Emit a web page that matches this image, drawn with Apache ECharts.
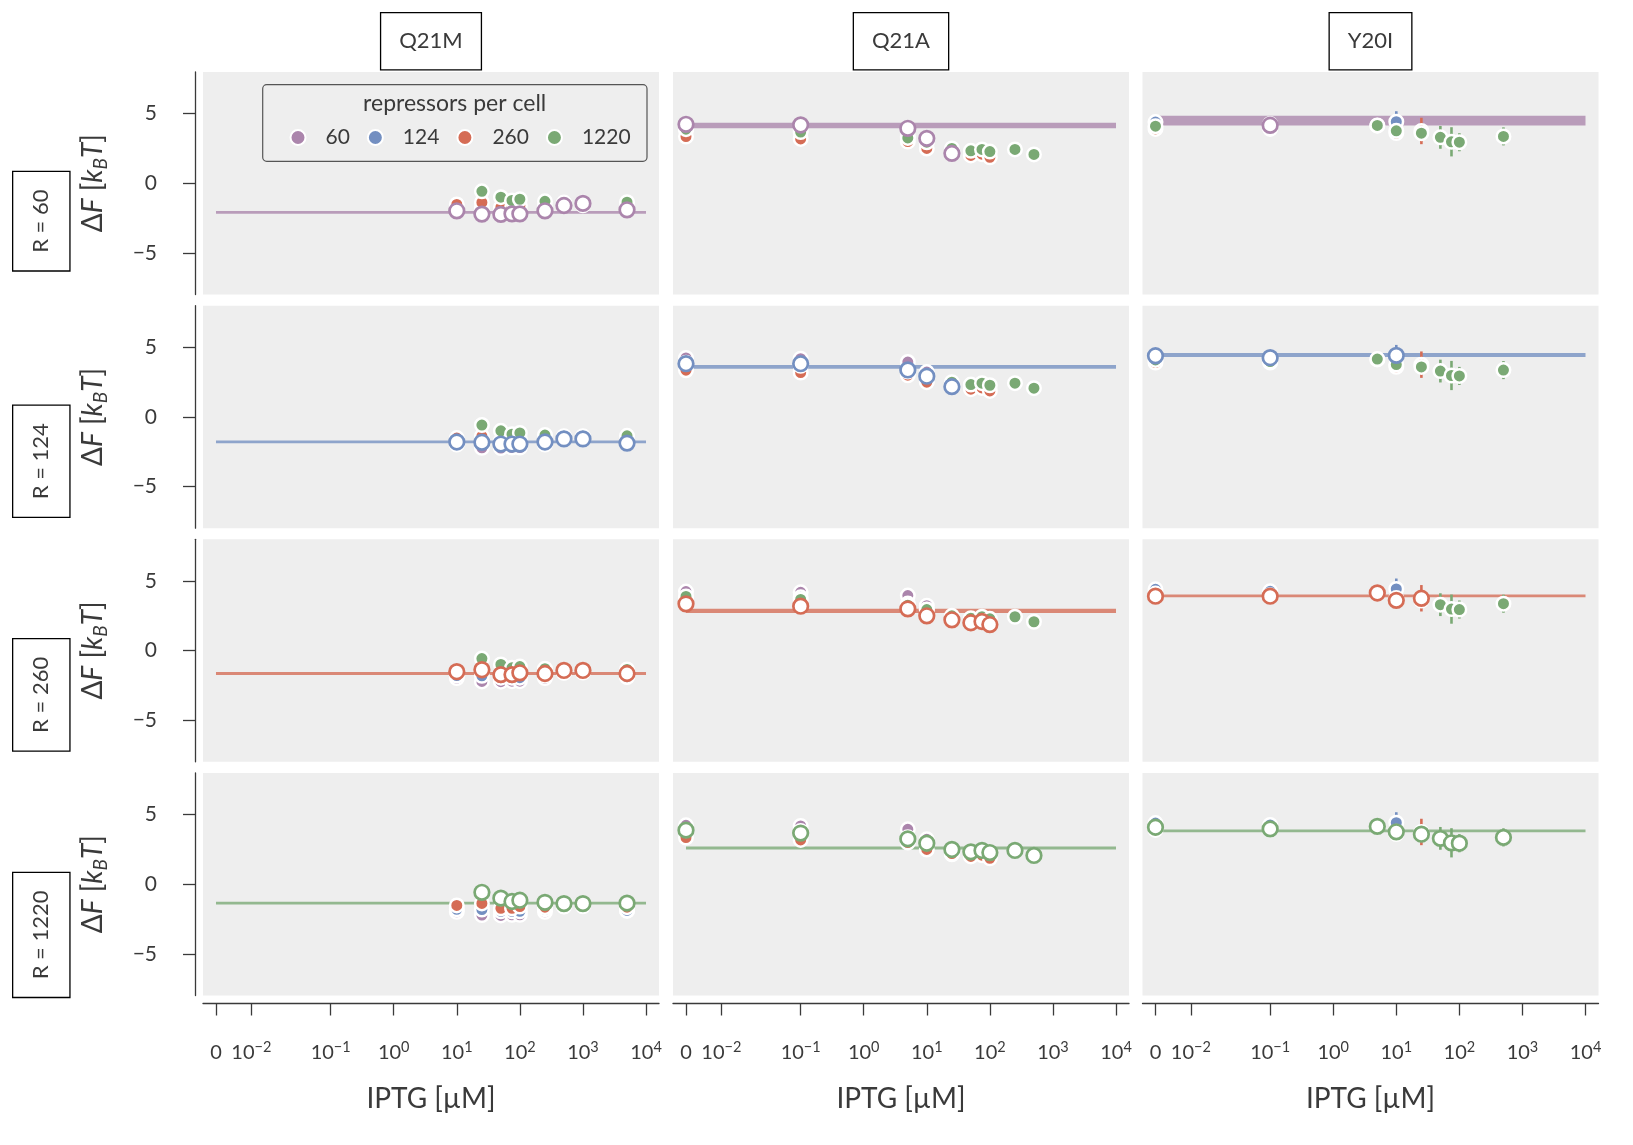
<!DOCTYPE html>
<html><head><meta charset="utf-8">
<script src="https://cdn.jsdelivr.net/npm/echarts@6/dist/echarts.min.js"></script>
<style>html,body{margin:0;padding:0;background:#fff}#c{width:1633px;height:1145px}</style>
</head><body><div id="c"></div>
<script>
// ---------------- data ----------------
const repressors = ['60', '124', '260', '1220'];
const colors = ['#AB85AC', '#738FC1', '#D56C55', '#7AA974'];
const mutants = ['Q21M', 'Q21A', 'Y20I'];
const iptg = [0, 0.1, 5, 10, 25, 50, 75, 100, 250, 500, 1000, 5000];

const q21m_R60   = [null, null, null, -1.98, -2.22, -2.24, -2.20, -2.20, -1.98, -1.60, -1.45, -1.91];
const q21m_R124  = [null, null, null, -1.80, -1.82, -1.95, -1.95, -1.95, -1.80, -1.58, -1.58, -1.88];
const q21m_R260  = [null, null, null, -1.52, -1.38, -1.73, -1.73, -1.60, -1.65, -1.43, -1.43, -1.65];
const q21m_R1220 = [null, null, null, null, -0.58, -1.00, -1.24, -1.15, -1.30, -1.39, -1.39, -1.36];

const q21a_R60   = [4.24, 4.19, 3.95, 3.23, 2.15, null, null, null, null, null, null, null];
const q21a_R124  = [3.83, 3.83, 3.38, 2.93, 2.18, null, null, null, null, null, null, null];
const q21a_R260  = [3.36, 3.19, 3.00, 2.50, 2.21, 2.00, 2.09, 1.87, null, null, null, null];
const q21a_R1220 = [3.89, 3.68, 3.26, 2.95, 2.50, 2.33, 2.43, 2.28, 2.43, 2.07, null, null];

const y20i_R60   = [null, 4.17, null, null, null, null, null, null, null, null, null, null];
const y20i_R124  = [4.40, 4.26, null, 4.43, null, null, null, null, null, null, null, null];
const y20i_R260  = [3.91, 3.91, 4.14, 3.61, 3.76, null, null, null, null, null, null, null];
const y20i_R1220 = [4.10, 3.98, 4.16, 3.77, 3.60, 3.30, 2.98, 2.95, null, 3.37, null, null];

// half-widths of the error bars (only where visible)
const y20i_R124_err  = [null, null, null, 0.75, null, null, null, null, null, null, null, null];
const y20i_R260_err  = [null, null, null, null, 0.95, null, null, null, null, null, null, null];
const y20i_R1220_err = [null, null, null, null, null, 0.82, 1.05, 0.65, null, 0.65, null, null];

// inferred dF band (lower / upper) per repressor copy number
const bandLo_Q21M = [-2.20, -1.90, -1.75, -1.45];
const bandHi_Q21M = [-2.00, -1.70, -1.55, -1.25];
const bandLo_Q21A = [3.95, 3.47, 2.70, 2.50];
const bandHi_Q21A = [4.35, 3.73, 3.00, 2.72];
const bandLo_Y20I = [4.15, 4.32, 3.85, 3.75];
const bandHi_Y20I = [4.85, 4.60, 4.02, 3.92];

// x ticks
const xTickIPTG = [0, 0.01, 0.1, 1, 10, 100, 1000, 10000];
const xTickExp  = [null, '−2', '−1', '0', '1', '2', '3', '4'];
const yTicks = [-5, 0, 5];

// ---------------- helpers ----------------
const dFdata = {
  Q21M: [q21m_R60, q21m_R124, q21m_R260, q21m_R1220],
  Q21A: [q21a_R60, q21a_R124, q21a_R260, q21a_R1220],
  Y20I: [y20i_R60, y20i_R124, y20i_R260, y20i_R1220]
};
const errData = {
  Q21M: [null, null, null, null],
  Q21A: [null, null, null, null],
  Y20I: [null, y20i_R124_err, y20i_R260_err, y20i_R1220_err]
};
const bandData = {
  Q21M: [bandLo_Q21M, bandHi_Q21M],
  Q21A: [bandLo_Q21A, bandHi_Q21A],
  Y20I: [bandLo_Y20I, bandHi_Y20I]
};

// symmetric-log–like IPTG scale (decades), with 0 placed left of 10^-2
function xpos(c) {
  if (c >= 0.1) return Math.log10(c);
  if (c >= 0.01) return -2.258 + (Math.log10(c) + 2) * 1.258;
  return -2.818 + (c / 0.01) * 0.56;
}
const xTickPos = xTickIPTG.map(xpos);
const X_MIN = xpos(0) - 0.206, X_MAX = xpos(10000) + 0.206;

const FONT = 'Lato, "Noto Sans", sans-serif';
const TXT = '#3a3a3a';
const AX = '#3a3a3a';

const colLeft = [203, 673, 1142.5];
const rowTop = [72, 305.7, 539.3, 773];
const PW = 456, PH = 222.5;

const grids = [], xAxes = [], yAxes = [], series = [];

for (let r = 0; r < 4; r++) {
  for (let m = 0; m < 3; m++) {
    const p = r * 3 + m;
    const mut = mutants[m];
    grids.push({ left: colLeft[m], top: rowTop[r], width: PW, height: PH, show: true,
      backgroundColor: '#eeeeee', borderWidth: 0, containLabel: false, outerBoundsMode: 'none' });
    xAxes.push({
      type: 'value', gridIndex: p, min: X_MIN, max: X_MAX, show: r === 3, offset: 8, position: 'bottom',
      axisLine: { show: true, onZero: false, lineStyle: { color: AX, width: 1.3 } },
      axisTick: { show: true, customValues: xTickPos, length: 12, lineStyle: { color: AX, width: 1.3 } },
      axisLabel: {
        customValues: xTickPos, margin: 36, hideOverlap: false,
        formatter: function (v) {
          let i = 0, best = 1e9;
          xTickPos.forEach((t, k) => { if (Math.abs(t - v) < best) { best = Math.abs(t - v); i = k; } });
          return xTickExp[i] === null ? '{b|0}' : '{b|10}{s|' + xTickExp[i] + '}';
        },
        rich: {
          b: { fontSize: 20, fontFamily: FONT, color: TXT, lineHeight: 23, padding: [6, 0, 0, 0], verticalAlign: 'bottom' },
          s: { fontSize: 14.5, fontFamily: FONT, color: TXT, lineHeight: 15, verticalAlign: 'top' }
        }
      },
      splitLine: { show: false },
      name: 'IPTG [µM]', nameLocation: 'middle', nameGap: 80, nameMoveOverlap: false,
      nameTextStyle: { fontSize: 28, fontFamily: FONT, color: TXT, lineHeight: 30 }
    });
    yAxes.push({
      type: 'value', gridIndex: p, min: -8, max: 8, show: m === 0, offset: 8, position: 'left',
      axisLine: { show: true, onZero: false, lineStyle: { color: AX, width: 1.3 } },
      axisTick: { show: true, customValues: yTicks, length: 12, lineStyle: { color: AX, width: 1.3 } },
      axisLabel: {
        customValues: yTicks, margin: 38, fontSize: 21, fontFamily: FONT, color: TXT,
        formatter: v => v < 0 ? '−' + Math.abs(v) : String(v)
      },
      splitLine: { show: false },
      name: '{d|Δ}{i|F} {d|[}{i|k}{sub|B}{i|T}{d|]}', nameLocation: 'middle', nameRotate: 90, nameGap: 85,
      nameMoveOverlap: false,
      nameTextStyle: {
        fontSize: 28, fontFamily: FONT, color: TXT,
        rich: {
          d: { fontSize: 28, fontFamily: FONT, color: TXT, lineHeight: 34 },
          i: { fontSize: 28, fontFamily: FONT, color: TXT, fontStyle: 'italic', lineHeight: 34 },
          sub: { fontSize: 19, fontFamily: FONT, color: TXT, fontStyle: 'italic', lineHeight: 19, verticalAlign: 'bottom' }
        }
      }
    });

    // band
    const col = colors[r];
    series.push({
      type: 'custom', xAxisIndex: p, yAxisIndex: p, z: 1, silent: true, clip: true,
      data: [[xpos(0), xpos(10000), bandData[mut][0][r], bandData[mut][1][r]]],
      encode: { x: [0, 1], y: [2, 3] },
      renderItem: (params, api) => {
        const a = api.coord([api.value(0), api.value(3)]);
        const b = api.coord([api.value(1), api.value(2)]);
        let y = a[1], h = b[1] - a[1];
        if (h < 2.6) { y -= (2.6 - h) / 2; h = 2.6; }
        return { type: 'rect', shape: { x: a[0], y: y, width: b[0] - a[0], height: h },
          style: { fill: col, opacity: 0.78 } };
      }
    });

    // error bars
    for (let k = 0; k < 4; k++) {
      const e = errData[mut][k];
      if (!e) continue;
      const v = dFdata[mut][k];
      const d = [];
      iptg.forEach((c, i) => { if (e[i] != null && v[i] != null) d.push([xpos(c), v[i] - e[i], v[i] + e[i]]); });
      const ec = colors[k];
      series.push({
        type: 'custom', xAxisIndex: p, yAxisIndex: p, z: 2, silent: true, data: d,
        encode: { x: 0, y: [1, 2] },
        renderItem: (params, api) => {
          const a = api.coord([api.value(0), api.value(1)]);
          const b = api.coord([api.value(0), api.value(2)]);
          return { type: 'line', shape: { x1: a[0], y1: a[1], x2: b[0], y2: b[1] },
            style: { stroke: ec, lineWidth: 2.6 } };
        }
      });
    }

    // filled points of all repressor copy numbers
    for (let k = 0; k < 4; k++) {
      const v = dFdata[mut][k];
      const d = [];
      iptg.forEach((c, i) => { if (v[i] != null) d.push([xpos(c), v[i]]); });
      series.push({
        type: 'scatter', name: repressors[k], xAxisIndex: p, yAxisIndex: p, z: 3, silent: true,
        data: d, symbol: 'circle', symbolSize: 13.5,
        itemStyle: { color: colors[k], borderColor: '#ffffff', borderWidth: 2.5, opacity: 1 },
        emphasis: { disabled: true }
      });
    }
    // highlighted (open) points for this row's repressor copy number
    {
      const v = dFdata[mut][r];
      const d = [];
      iptg.forEach((c, i) => { if (v[i] != null) d.push([xpos(c), v[i]]); });
      series.push({
        type: 'scatter', name: 'highlight', xAxisIndex: p, yAxisIndex: p, z: 4, silent: true,
        data: d, symbol: 'circle', symbolSize: 14.6,
        itemStyle: { color: '#ffffff', borderColor: colors[r], borderWidth: 2.7, opacity: 1 },
        emphasis: { disabled: true }
      });
    }
  }
}

// ---------------- decorations ----------------
const graphics = [];
// legend frame + title
graphics.push({ type: 'rect', z: 20, silent: true,
  shape: { x: 262.7, y: 84.7, width: 384.3, height: 76.6, r: 4 },
  style: { fill: '#eeeeee', stroke: '#555555', lineWidth: 1.2 } });
graphics.push({ type: 'text', z: 21, silent: true, x: 454.7, y: 104,
  style: { text: 'repressors per cell', fontSize: 23, fontFamily: FONT, fill: TXT, align: 'center', verticalAlign: 'middle' } });
// column titles
mutants.forEach((t, m) => {
  graphics.push({ type: 'text', z: 21, silent: true, x: colLeft[m] + PW / 2, y: 41.3,
    style: { text: t, fontSize: 22, fontFamily: FONT, fill: TXT, align: 'center', verticalAlign: 'middle',
      lineHeight: 24, padding: [16, 18, 16, 18], borderColor: '#000000', borderWidth: 1.3, backgroundColor: '#ffffff' } });
});
// row labels
repressors.forEach((t, r) => {
  graphics.push({ type: 'text', z: 21, silent: true, x: 41.3, y: rowTop[r] + 100, rotation: Math.PI / 2,
    style: { text: 'R = ' + t, fontSize: 22, fontFamily: FONT, fill: TXT, align: 'right', verticalAlign: 'middle',
      lineHeight: 22, padding: [17, 17.5, 17, 17.5], borderColor: '#000000', borderWidth: 1.3, backgroundColor: '#ffffff' } });
});

const chart = echarts.init(document.getElementById('c'), null, { renderer: 'canvas' });
chart.setOption({
  animation: false,
  backgroundColor: '#ffffff',
  grid: grids, xAxis: xAxes, yAxis: yAxes, series: series,
  legend: {
    data: repressors, left: 289.5, top: 127, orient: 'horizontal', z: 30,
    itemWidth: 15, itemHeight: 15, itemGap: 17, icon: 'circle', selectedMode: false, padding: 0,
    itemStyle: { borderColor: '#ffffff', borderWidth: 2 },
    textStyle: { fontSize: 21, fontFamily: FONT, color: TXT, padding: [0, 0, 0, 15] }
  },
  graphic: { elements: graphics }
});
</script></body></html>
